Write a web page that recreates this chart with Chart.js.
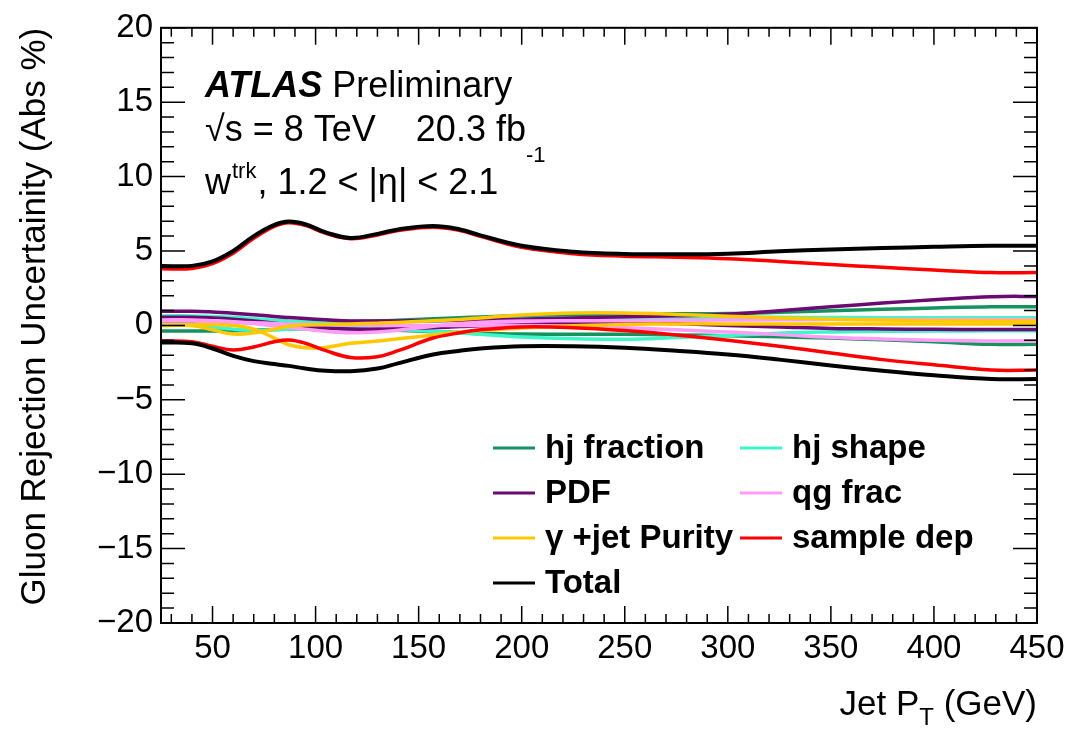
<!DOCTYPE html>
<html>
<head>
<meta charset="utf-8">
<script src="https://cdn.jsdelivr.net/npm/chart.js@4.4.1/dist/chart.umd.min.js"></script>
<style>
    body { margin: 0; background: #fff; }
    #wrap { width: 1076px; height: 729px; }
</style>
</head>
<body>
<div id="wrap"><canvas id="myChart" width="1076" height="729"></canvas></div>
<script>
// jet pT points (GeV)
const ptBins = [25, 40, 50, 60, 70, 80, 87, 95, 105, 117, 130, 140, 157, 170, 180, 200, 225, 250, 275, 300, 325, 350, 375, 400, 428, 450];

// uncertainties, abs %
const hjFracUp = [0.2, 0.2, 0.2, 0.2, 0.2, 0.2, 0.2, 0.22, 0.24, 0.27, 0.3, 0.35, 0.45, 0.52, 0.57, 0.65, 0.72, 0.76, 0.78, 0.8, 0.88, 0.98, 1.08, 1.17, 1.25, 1.25];
const hjFracDown = [-0.38, -0.38, -0.38, -0.36, -0.32, -0.27, -0.24, -0.22, -0.2, -0.22, -0.28, -0.33, -0.42, -0.48, -0.52, -0.58, -0.6, -0.6, -0.64, -0.7, -0.77, -0.85, -0.97, -1.1, -1.27, -1.27];
const hjShapeUp = [0.64, 0.64, 0.6, 0.55, 0.45, 0.35, 0.28, 0.22, 0.17, 0.15, 0.2, 0.24, 0.3, 0.35, 0.38, 0.45, 0.5, 0.55, 0.55, 0.55, 0.54, 0.53, 0.52, 0.52, 0.52, 0.52];
const hjShapeDown = [0.0, 0.0, -0.1, -0.25, -0.33, -0.3, -0.25, -0.2, -0.12, -0.1, -0.2, -0.28, -0.4, -0.5, -0.6, -0.78, -0.9, -0.93, -0.82, -0.68, -0.52, -0.44, -0.4, -0.38, -0.36, -0.36];
const pdfUp = [0.95, 0.95, 0.9, 0.82, 0.72, 0.6, 0.53, 0.46, 0.38, 0.3, 0.3, 0.3, 0.32, 0.35, 0.37, 0.42, 0.5, 0.58, 0.65, 0.75, 0.98, 1.25, 1.5, 1.72, 1.93, 1.95];
const pdfDown = [0.55, 0.55, 0.5, 0.42, 0.3, 0.15, 0.05, -0.05, -0.15, -0.25, -0.25, -0.22, -0.15, -0.08, -0.02, 0.05, 0.15, 0.2, 0.12, 0.0, -0.1, -0.2, -0.24, -0.26, -0.28, -0.28];
const qgFracUp = [0.37, 0.37, 0.32, 0.25, 0.12, -0.02, -0.12, -0.25, -0.4, -0.5, -0.45, -0.32, -0.05, 0.12, 0.22, 0.3, 0.32, 0.32, 0.34, 0.36, 0.38, 0.39, 0.4, 0.4, 0.4, 0.4];
const qgFracDown = [0.3, 0.3, 0.27, 0.22, 0.18, 0.13, 0.1, 0.07, 0.04, 0.02, 0.0, 0.0, 0.0, 0.0, 0.0, 0.0, -0.05, -0.15, -0.3, -0.45, -0.62, -0.8, -0.92, -1.0, -1.05, -1.05];
const purityUp = [0.0, 0.0, -0.3, -0.58, -0.5, -0.25, -0.05, 0.03, 0.06, 0.1, 0.15, 0.2, 0.32, 0.4, 0.5, 0.7, 0.84, 0.84, 0.74, 0.62, 0.5, 0.42, 0.36, 0.32, 0.3, 0.3];
const purityDown = [0.05, 0.05, 0.05, 0.0, -0.25, -0.85, -1.3, -1.5, -1.48, -1.2, -1.05, -0.9, -0.65, -0.45, -0.35, -0.18, -0.02, 0.06, 0.1, 0.1, 0.1, 0.1, 0.1, 0.1, 0.1, 0.1];
const sampleUp = [3.8, 3.82, 4.15, 4.85, 5.85, 6.65, 6.9, 6.72, 6.18, 5.82, 6.08, 6.38, 6.6, 6.38, 5.98, 5.25, 4.82, 4.65, 4.58, 4.48, 4.3, 4.1, 3.9, 3.72, 3.55, 3.55];
const sampleDown = [-1.05, -1.1, -1.4, -1.65, -1.45, -1.1, -0.98, -1.2, -1.7, -2.15, -2.1, -1.7, -0.85, -0.5, -0.3, -0.1, -0.15, -0.35, -0.65, -1.0, -1.4, -1.85, -2.3, -2.65, -3.0, -3.0];
const totalUp = [4.0, 4.0, 4.3, 5.0, 6.0, 6.75, 6.98, 6.8, 6.25, 5.88, 6.15, 6.45, 6.68, 6.45, 6.05, 5.35, 4.95, 4.8, 4.78, 4.82, 4.98, 5.1, 5.2, 5.28, 5.35, 5.35];
const totalDown = [-1.15, -1.2, -1.55, -2.05, -2.4, -2.6, -2.72, -2.9, -3.05, -3.08, -2.9, -2.55, -1.95, -1.7, -1.55, -1.4, -1.4, -1.5, -1.7, -1.95, -2.3, -2.7, -3.05, -3.35, -3.6, -3.6];

const xTickValues = [50, 100, 150, 200, 250, 300, 350, 400, 450];

const FONT = "'Liberation Sans', Arial, Helvetica, sans-serif";

// label, colour, up, down, width, draw order
const systematics = [
    ["hj fraction", "#14935f", hjFracUp, hjFracDown, 3.5, 6],
    ["hj shape", "#3cf7c9", hjShapeUp, hjShapeDown, 3.5, 5],
    ["PDF", "#6a0a72", pdfUp, pdfDown, 3.5, 4],
    ["qg frac", "#ff9cf5", qgFracUp, qgFracDown, 3.5, 3],
    ["\u03b3 +jet Purity", "#ffc800", purityUp, purityDown, 3.5, 2],
    ["sample dep", "#ff0000", sampleUp, sampleDown, 3.5, 1],
    ["Total", "#000000", totalUp, totalDown, 4, 0],
];

function toPoints(values) {
    return ptBins.map((x, i) => ({ x: x, y: values[i] }));
}

const datasets = [];
systematics.forEach(([label, color, up, down, width, order]) => {
    [up, down].forEach((vals, k) => {
        datasets.push({
            label: label,
            data: toPoints(vals),
            borderColor: color,
            backgroundColor: color,
            borderWidth: width,
            pointRadius: 0,
            tension: 0.4,
            fill: false,
            order: order,
            inLegend: k === 0,
        });
    });
});

const decorPlugin = {
    id: "decor",
    afterDraw(chart) {
        const ctx = chart.ctx;
        const a = chart.chartArea;
        const xs = chart.scales.x;
        const ys = chart.scales.y;
        ctx.save();

        // inward ticks, ROOT style
        ctx.strokeStyle = "#000";
        ctx.lineWidth = 1.5;
        ctx.beginPath();
        for (let v = 30; v <= 450; v += 10) {
            const px = xs.getPixelForValue(v);
            const len = v % 50 === 0 ? 17 : 9;
            ctx.moveTo(px, a.bottom);
            ctx.lineTo(px, a.bottom - len);
            ctx.moveTo(px, a.top);
            ctx.lineTo(px, a.top + len);
        }
        for (let v = -20; v <= 20; v += 1) {
            const py = ys.getPixelForValue(v);
            const len = v % 5 === 0 ? 24 : 13;
            ctx.moveTo(a.left, py);
            ctx.lineTo(a.left + len, py);
            ctx.moveTo(a.right, py);
            ctx.lineTo(a.right - len, py);
        }
        ctx.stroke();

        // frame
        ctx.lineWidth = 2;
        ctx.strokeRect(a.left, a.top, a.right - a.left, a.bottom - a.top);

        // ATLAS label
        ctx.fillStyle = "#000";
        ctx.textBaseline = "alphabetic";
        ctx.textAlign = "left";
        ctx.font = "italic bold 36px " + FONT;
        ctx.fillText("ATLAS", 205, 97);
        let w = ctx.measureText("ATLAS ").width;
        ctx.font = "36px " + FONT;
        ctx.fillText("Preliminary", 205 + w, 97);

        const line2 = "\u221as = 8 TeV    20.3 fb";
        ctx.fillText(line2, 205, 141);
        w = ctx.measureText(line2).width;
        ctx.font = "22px " + FONT;
        ctx.fillText("-1", 205 + w, 162);

        ctx.font = "36px " + FONT;
        ctx.fillText("w", 205, 194);
        w = ctx.measureText("w").width;
        ctx.font = "22px " + FONT;
        ctx.fillText("trk", 205 + w + 1, 178);
        const w2 = ctx.measureText("trk").width;
        ctx.font = "36px " + FONT;
        ctx.fillText(", 1.2 < |\u03b7| < 2.1", 205 + w + w2 + 2, 194);

        // legend
        const items = chart.data.datasets.filter((d) => d.inLegend);
        ctx.font = "bold 33px " + FONT;
        ctx.textBaseline = "middle";
        items.forEach((d, i) => {
            const col = i % 2;
            const row = Math.floor(i / 2);
            const lx = col === 0 ? 493 : 740;
            const ly = 448 + row * 45;
            ctx.strokeStyle = d.borderColor;
            ctx.lineWidth = 3;
            ctx.beginPath();
            ctx.moveTo(lx, ly);
            ctx.lineTo(lx + 42, ly);
            ctx.stroke();
            ctx.fillStyle = "#000";
            ctx.fillText(d.label, lx + 52, ly + 1);
        });

        // x axis title with subscript
        ctx.textBaseline = "alphabetic";
        ctx.textAlign = "right";
        ctx.font = "35px " + FONT;
        const tail = " (GeV)";
        const right = a.right;
        ctx.fillText(tail, right, 715);
        let off = ctx.measureText(tail).width;
        ctx.font = "24px " + FONT;
        ctx.fillText("T", right - off, 725);
        off += ctx.measureText("T").width;
        ctx.font = "35px " + FONT;
        ctx.fillText("Jet P", right - off, 715);

        ctx.restore();
    },
};

const config = {
    type: "line",
    data: { datasets: datasets },
    options: {
        responsive: false,
        animation: false,
        layout: { padding: { top: 26, right: 39, left: 0, bottom: 0 } },
        plugins: {
            legend: { display: false },
            tooltip: { enabled: false },
        },
        scales: {
            x: {
                type: "linear",
                min: 25,
                max: 450,
                grid: { display: false, drawTicks: false },
                border: { display: false },
                afterBuildTicks: (scale) => {
                    scale.ticks = xTickValues.map((v) => ({ value: v }));
                },
                afterFit: (scale) => {
                    scale.height = 106;
                },
                ticks: {
                    color: "#000",
                    padding: 6,
                    maxRotation: 0,
                    font: { size: 33, family: FONT },
                },
            },
            y: {
                min: -20,
                max: 20,
                grid: { display: false, drawTicks: false },
                border: { display: false },
                afterFit: (scale) => {
                    scale.width = 161;
                },
                title: {
                    display: true,
                    text: "Gluon Rejection Uncertainity (Abs %)",
                    align: "end",
                    color: "#000",
                    padding: { top: 14, bottom: 0 },
                    font: { size: 35, family: FONT },
                },
                ticks: {
                    stepSize: 5,
                    color: "#000",
                    padding: 8,
                    font: { size: 33, family: FONT },
                    callback: (v) => (v < 0 ? "\u2212" + Math.abs(v) : String(v)),
                },
            },
        },
    },
    plugins: [decorPlugin],
};

const myChart = new Chart(document.getElementById("myChart"), config);
</script>
</body>
</html>
